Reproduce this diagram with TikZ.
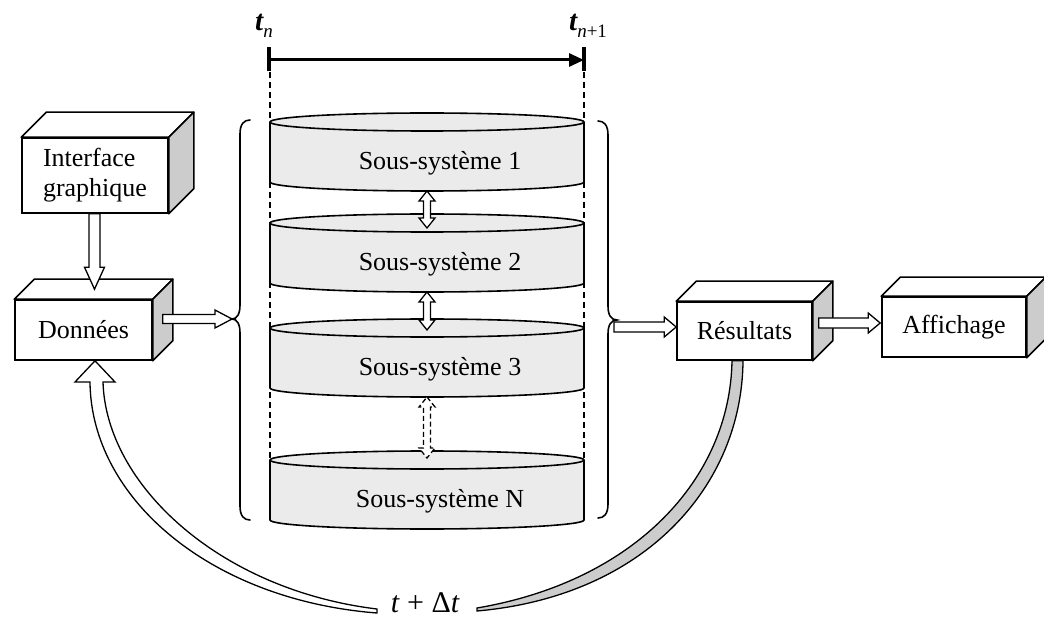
\documentclass[tikz,border=0pt]{standalone}
\usepackage{fontspec}
\setmainfont{Liberation Serif}
\usetikzlibrary{calc,arrows.meta}

\definecolor{sidegray}{gray}{0.80}
\definecolor{cylgray}{gray}{0.92}
\definecolor{bandgray}{gray}{0.80}

\tikzset{
  x=1pt, y=-1pt,
  every node/.style={font=\fontsize{26}{30}\selectfont},
  box/.style={draw, line width=1.6pt, fill=white, inner sep=0pt},
  face/.style={draw, line width=1.6pt, line join=round, fill=white},
  side/.style={face, fill=sidegray},
  hollow/.style={draw, line width=1.3pt, fill=white, line join=miter},
  guide/.style={line width=1.4pt, dash pattern=on 6pt off 4pt},
  cyl/.style={draw, line width=1.6pt, fill=cylgray},
  brace/.style={draw, line width=1.6pt, line cap=round},
}

% top and right faces of a box-shaped node: #1 node, #2 depth
\newcommand\solidbox[2]{%
  \path[face] (#1.north west) -- ++(#2,-#2) -- ($(#1.north east)+(#2,-#2)$) -- (#1.north east) -- cycle;
  \path[side] (#1.north east) -- ++(#2,-#2) -- ($(#1.south east)+(#2,-#2)$) -- (#1.south east) -- cycle;}

% horizontal hollow arrow: start, tip, half shaft, half head, head length
\newcommand\harrow[5]{%
  \path[hollow] let \p1=#1, \p2=#2 in
    (\x1,\y2+#3pt) -- (\x2-#5pt,\y2+#3pt) -- (\x2-#5pt,\y2+#4pt) -- (\x2,\y2)
    -- (\x2-#5pt,\y2-#4pt) -- (\x2-#5pt,\y2-#3pt) -- (\x1,\y2-#3pt) -- cycle;}

% downward hollow arrow: start, tip, half shaft, half head, head length
\newcommand\varrow[5]{%
  \path[hollow] let \p1=#1, \p2=#2 in
    (\x2+#3pt,\y1) -- (\x2+#3pt,\y2+#5pt) -- (\x2+#4pt,\y2+#5pt) -- (\x2,\y2)
    -- (\x2-#4pt,\y2+#5pt) -- (\x2-#3pt,\y2+#5pt) -- (\x2-#3pt,\y1) -- cycle;}

% vertical hollow double arrow: top, bottom, half shaft, half head, head length, extra style
\newcommand\dvarrow[6]{%
  \path[hollow,#6] let \p1=#1, \p2=#2 in
    (\x1,\y1) -- (\x1+#4pt,\y1-#5pt) -- (\x1+#3pt,\y1-#5pt) -- (\x1+#3pt,\y2+#5pt)
    -- (\x1+#4pt,\y2+#5pt) -- (\x1,\y2) -- (\x1-#4pt,\y2+#5pt) -- (\x1-#3pt,\y2+#5pt)
    -- (\x1-#3pt,\y1-#5pt) -- (\x1-#4pt,\y1-#5pt) -- cycle;}

% one sub-system drum: name, top y, label
\newcommand\subsys[3]{%
  \path[cyl] (270,#2) -- (270,#2+60)
    arc[start angle=180, end angle=360, x radius=157pt, y radius=9pt] -- (584,#2)
    arc[start angle=0, end angle=180, x radius=157pt, y radius=9pt] -- cycle;
  \draw[line width=1.6pt] (270,#2) arc[start angle=180, end angle=360, x radius=157pt, y radius=9pt];
  \node (#1) at (440,#2+41) {#3};
  \coordinate (#1-top) at (427,#2);
  \coordinate (#1-bot) at (427,#2+69);}

\begin{document}
\begin{tikzpicture}
\useasboundingbox[fill=white] (0,0) rectangle (1044,620);

% time step bar
\coordinate (ta) at (269,60);
\coordinate (tb) at (584,60);
\node[anchor=base west, inner sep=0pt] (tn) at (255,31)
  {{\fontsize{29}{29}\selectfont\bfseries\itshape t}\raisebox{-7pt}{\fontsize{19}{19}\selectfont\itshape n}};
\node[anchor=base west, inner sep=0pt] (tn1) at (569,31)
  {{\fontsize{29}{29}\selectfont\bfseries\itshape t}\raisebox{-7pt}{\fontsize{19}{19}\selectfont\itshape n\upshape+1}};
\draw[line width=3pt, -{Triangle[length=15pt, width=13pt]}] (ta) -- (tb);
\draw[line width=3.5pt] ($(ta)+(0,-13)$) -- ($(ta)+(0,11)$);
\draw[line width=3.5pt] ($(tb)+(0,-13)$) -- ($(tb)+(0,11)$);

% guides down to the last drum
\draw[guide] ($(ta)+(1,12)$) -- (270,460);
\draw[guide] ($(tb)+(0,12)$) -- (584,460);

% sub-systems
\subsys{s1}{122}{Sous-système 1}
\subsys{s2}{223}{Sous-système 2}
\subsys{s3}{328}{Sous-système 3}
\subsys{sN}{460}{Sous-système N}

\dvarrow{(s1-bot)}{($(s2-top)+(0,5)$)}{3.5}{8}{10}{}
\dvarrow{(s2-bot)}{($(s3-top)+(0,2)$)}{3.5}{8}{10}{}
\dvarrow{(s3-bot)}{($(sN-top)+(0,-2)$)}{3.5}{8}{10}{dash pattern=on 5pt off 3pt}

% braces
\coordinate (lbt) at (232,319);
\coordinate (rbt) at (617,320);
\draw[brace] (250,120) .. controls (244,120) and (240,124) .. (240,134) -- (240,305)
  .. controls (240,314) and (237,319) .. (lbt)
  .. controls (237,319) and (240,324) .. (240,333) -- (240,506)
  .. controls (240,516) and (244,520) .. (250,520);
\draw[brace] (598,121) .. controls (604,121) and (608,125) .. (608,135) -- (608,306)
  .. controls (608,315) and (611,320) .. (rbt)
  .. controls (611,320) and (608,325) .. (608,334) -- (608,504)
  .. controls (608,514) and (604,518) .. (598,518);

% boxes
\node[box, minimum width=146pt, minimum height=75pt, align=left] (ifc) at (95,175.5) {Interface\\graphique};
\solidbox{ifc}{25}
\node[box, minimum width=137pt, minimum height=60pt] (don) at (83.5,330) {Données};
\solidbox{don}{20}
\node[box, minimum width=135pt, minimum height=58pt] (res) at (744.5,331) {Résultats};
\solidbox{res}{20}
\node[box, minimum width=144pt, minimum height=60pt] (aff) at (954,327) {Affichage};
\solidbox{aff}{19}

% flows
\varrow{($(ifc.south)+(-0.5,0)$)}{($(don.north)+(11,-10)$)}{5.5}{10}{22}
\harrow{($(don.east)+(10,-11)$)}{(lbt)}{4.5}{9}{17}
\harrow{($(rbt)+(-3,7)$)}{($(res.west)+(0,-4)$)}{5}{10}{12}
\harrow{($(res.east)+(6,-8)$)}{($(aff.west)+(-1,-4)$)}{5}{10}{12}

% time loop back to the data
\node[anchor=base, inner sep=0pt] (dt) at (425,612)
  {\fontsize{30}{30}\selectfont\itshape t\/ \upshape+ Δ\itshape t};
\coordinate (loopL) at ($(don.south)+(11.5,0)$);
\coordinate (loopR) at ($(res.south)+(-7.5,0)$);
\path[hollow] (90,382) -- (75,382) -- (loopL) -- (115,382) -- (103,382)
  .. controls (106,485) and (220,590) .. (377,609) -- (377,613)
  .. controls (210,600) and (91,498) .. (90,382) -- cycle;
\path[hollow, fill=bandgray] ($(loopR)+(-5,0)$) .. controls (730,478) and (636,581) .. (477,608)
  -- (477,611) .. controls (646,596) and (742,485) .. ($(loopR)+(6,0)$) -- cycle;
\end{tikzpicture}
\end{document}
